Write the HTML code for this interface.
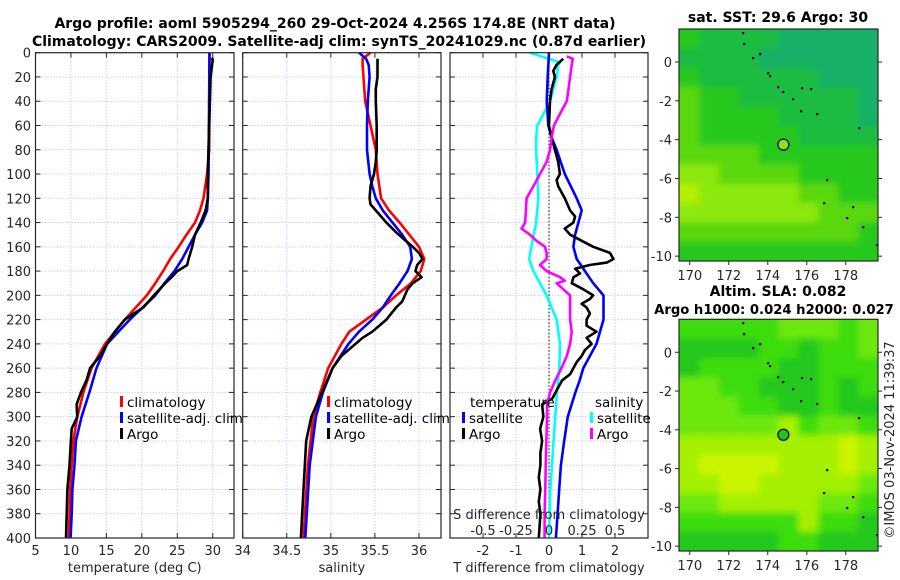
<!DOCTYPE html>
<html><head><meta charset="utf-8">
<style>
html,body{margin:0;padding:0;background:#fff;}
svg{display:block;font-family:"DejaVu Sans","Liberation Sans",sans-serif;}
.tk{font-size:13px;fill:#262626;}
.tt{font-size:14px;font-weight:bold;fill:#000;}
.lg{font-size:13.5px;fill:#000;}
</style></head>
<body>
<svg id="fig" width="900" height="580" viewBox="0 0 900 580" xmlns="http://www.w3.org/2000/svg">
<defs>
<filter id="blur" x="-5%" y="-5%" width="110%" height="110%"><feGaussianBlur stdDeviation="3.5"/></filter>
<clipPath id="clip1"><rect x="679" y="29" width="199" height="232"/></clipPath>
<clipPath id="clip2"><rect x="679" y="319.3" width="199" height="231.7"/></clipPath>
</defs>
<text class="tt" x="335" y="28" text-anchor="middle">Argo profile: aoml 5905294_260 29-Oct-2024 4.256S 174.8E (NRT data)</text>
<text class="tt" x="339" y="46" text-anchor="middle">Climatology: CARS2009. Satellite-adj clim: synTS_20241029.nc (0.87d earlier)</text>
<text class="tt" x="778" y="22" text-anchor="middle">sat. SST: 29.6 Argo: 30</text>
<text class="tt" x="778" y="296" text-anchor="middle">Altim. SLA: 0.082</text>
<text class="tt" x="774" y="314" text-anchor="middle" style="font-size:13.2px">Argo h1000: 0.024 h2000: 0.027</text>
<text class="tk" x="0" y="0" transform="translate(894,440) rotate(-90)" text-anchor="middle">©IMOS 03-Nov-2024 11:39:37</text>
<g id="plots"></g>
</svg>
<script>
// ---------- data ----------
const depthTicks = [0,20,40,60,80,100,120,140,160,180,200,220,240,260,280,300,320,340,360,380,400];
const tempTicks = [5,10,15,20,25,30];
const salTicks = [34,34.5,35,35.5,36];
const salTickLabels = ["34","34.5","35","35.5","36"];
const diffTicks = [-2,-1,0,1,2];
const sDiffLabels = ["-0.5","-0.25","0","0.25","0.5"];

const tClimDepth = [0,80,100,120,130,140,150,160,170,180,190,200,220,240,260,280,300,320,340,360,380,400];
const tClim = [29.55,29.5,29.2,28.7,28.2,27.5,26.3,25.2,24.0,23.0,21.9,20.7,17.6,14.8,12.9,11.75,10.9,10.35,10.1,9.9,9.8,9.7];
const tSatDepth = [0,100,120,130,140,150,160,170,180,190,200,220,240,260,280,300,320,340,360,380,400];
const tSat = [29.55,29.4,29.3,29.2,28.5,27.5,26.6,25.7,24.6,23.2,21.9,18.3,15.1,13.6,12.6,11.5,10.7,10.5,10.2,10.1,9.95];
const tArgoDepth = [4,6,20,100,120,130,140,150,160,170,175,180,185,190,200,210,220,230,240,250,260,270,280,290,300,310,320,340,360,380,400];
const tArgo = [29.9,30.0,29.7,29.3,29.3,29.0,28.3,27.5,27.1,26.6,26.4,25.0,24.2,23.3,21.7,20.2,17.6,16.2,15.1,14.1,12.7,12.2,11.4,10.8,10.9,10.1,10.0,9.8,9.5,9.4,9.3];

const sClimDepth = [0,5,10,40,60,80,100,120,130,140,150,160,170,180,190,200,210,220,230,240,260,280,300,340,400];
const sClim = [35.45,35.36,35.36,35.39,35.45,35.51,35.53,35.57,35.66,35.78,35.89,36.0,36.06,36.02,35.91,35.74,35.59,35.40,35.21,35.12,34.97,34.88,34.8,34.74,34.69];
const sSatDepth = [0,5,10,20,40,60,80,100,110,120,130,140,150,160,170,180,190,200,210,220,230,240,260,280,300,340,400];
const sSat = [35.32,35.4,35.43,35.44,35.42,35.41,35.41,35.44,35.47,35.51,35.59,35.70,35.81,35.90,35.92,35.87,35.78,35.68,35.59,35.47,35.32,35.2,35.02,34.91,34.83,34.76,34.71];
const sArgoDepth = [5,20,30,40,60,80,90,100,110,120,125,130,140,148,155,160,165,170,175,180,185,190,195,200,205,210,220,230,235,240,250,260,280,300,320,360,400];
const sArgo = [35.53,35.53,35.51,35.51,35.52,35.52,35.51,35.49,35.45,35.44,35.45,35.51,35.63,35.74,35.85,35.93,36.0,36.04,35.98,35.96,36.03,35.93,35.87,35.84,35.81,35.74,35.63,35.47,35.36,35.28,35.12,35.02,34.9,34.78,34.72,34.69,34.66];

const dTSatDepth = [0,20,40,60,70,80,100,120,130,140,150,160,170,180,190,200,220,240,260,270,280,300,320,340,360,380,400];
const dTSat = [0,-0.04,-0.07,-0.02,0.08,0.23,0.48,0.84,0.99,0.89,0.79,0.74,0.84,1.09,1.34,1.65,1.65,1.44,1.04,0.93,0.8,0.57,0.46,0.36,0.31,0.26,0.21];
const dTArgoDepth = [5,10,15,20,30,40,60,70,80,90,100,105,110,120,130,135,140,145,150,155,160,165,170,173,175,178,182,185,190,195,200,203,207,210,215,220,225,230,235,240,245,250,255,260,265,270,275,285,290,300,310,320,330,340,350,360,370,380,400];
const dTArgo = [0.43,0.23,0.13,0.18,0.08,0.03,0,0.08,0.18,0.28,0.33,0.23,0.28,0.48,0.64,0.79,0.74,0.48,0.64,0.99,1.34,1.85,1.95,1.75,1.23,0.79,0.94,0.74,0.69,1.04,1.34,1.24,0.99,1.14,1.24,1.14,1.14,1.44,1.14,1.29,1.09,0.99,0.84,0.74,0.64,0.4,0.3,0.1,-0.21,-0.17,-0.27,-0.21,-0.26,-0.26,-0.31,-0.26,-0.31,-0.26,-0.31];
const dSSatDepth = [0,8,10,20,40,50,60,70,80,100,120,140,160,170,180,190,200,210,220,240,260,280,300,320,340,360,380,400];
const dSSat = [-0.145,0.083,0.07,0.058,0.008,-0.04,-0.088,-0.098,-0.098,-0.088,-0.08,-0.098,-0.133,-0.15,-0.118,-0.068,-0.018,0.02,0.058,0.083,0.078,0.06,0.048,0.035,0.023,0.01,0.005,0];
const dSArgoDepth = [3,5,10,20,30,40,50,60,70,80,90,100,110,120,130,140,145,150,155,160,165,170,175,180,185,188,190,195,200,210,220,230,240,250,260,270,280,290,300,320,340,360,380,400];
const dSArgo = [0.135,0.18,0.172,0.16,0.148,0.135,0.085,0.038,0.02,0.008,-0.018,-0.068,-0.118,-0.17,-0.175,-0.18,-0.208,-0.145,-0.095,-0.03,-0.018,-0.018,-0.068,-0.018,0.083,0.12,0.058,0.108,0.16,0.16,0.16,0.172,0.16,0.135,0.095,0.048,0.008,-0.015,-0.015,-0.02,-0.025,-0.028,-0.033,-0.033];

const mapLonTicks = [170,172,174,176,178];
const mapLatTicks = [0,-2,-4,-6,-8,-10];
const sstGrid = ["cbbbbaaaaa","bbbbaaaaaa","cbbbbbbaaa","dccbbbbbba","dccccbbbba","dcccccbbbb","ddddcccccc","eeddddcccc","feeeeeddcc","eeeeeeeddd","dddddddddc","cccccccccc"];
const slaGrid = ["hhhhhiiihi","gggghhghhi","ghhhhgghhh","iihhggghgh","iiihhgghgg","iiiiijhiih","jjjjjjjjkj","jkkkkjjjkj","jjkkjjjjji","iijjjjjiih","hhhhhhjhhg","ggggghhggg"];
const cellColors = {a:"#14b068",b:"#1cbc40",c:"#26c81a",d:"#5ad810",e:"#8ce808",f:"#b4f000",g:"#24c81a",h:"#3edc10",i:"#6ce808",j:"#a4f000",k:"#ccf400"};
const islandsX = [743,744,753,760,768,770,778,783,793,802,811,801,817,859,827,824,847,853,863,877];
const islandsY = [33,44,58,54,73,76,87,92,99,88,89,111,114,128,180,203,218,207,227,245];
const argoLon = 174.8, argoLat = -4.256;

// ---------- helpers ----------
const NS = "http://www.w3.org/2000/svg";
const root = document.getElementById('plots');
function el(tag, attrs, parent){
  const e = document.createElementNS(NS, tag);
  for (const k in attrs) e.setAttribute(k, attrs[k]);
  (parent||root).appendChild(e);
  return e;
}
const Y0 = 52.7, Y1 = 538;
function yScale(d){ return Y0 + (d/400)*(Y1-Y0); }
function mkX(x0,x1,v0,v1){ return v => x0 + (v-v0)/(v1-v0)*(x1-x0); }

function panel(name, x0, x1, xs, ticks, labels, xlabel){
  const g = el('g', {});
  
  
  for (const d of depthTicks){
    const ln = el('line',{x1:x0,x2:x1,y1:yScale(d),y2:yScale(d),stroke:"#c9cfee","stroke-width":1,"stroke-dasharray":"1.5,1.5"},g);
    
    
    el('line',{x1:x0,x2:x0+5,y1:yScale(d),y2:yScale(d),stroke:"#262626"},g);
    el('line',{x1:x1-5,x2:x1,y1:yScale(d),y2:yScale(d),stroke:"#262626"},g);
  }
  ticks.forEach((t,i)=>{
    const x = xs(t);
    const ln = el('line',{x1:x,x2:x,y1:Y0,y2:Y1,stroke:"#c9cfee","stroke-width":1,"stroke-dasharray":"1.5,1.5"},g);
    
    
    el('line',{x1:x,x2:x,y1:Y0,y2:Y0+5,stroke:"#262626"},g);
    el('line',{x1:x,x2:x,y1:Y1-5,y2:Y1,stroke:"#262626"},g);
    const tx = el('text',{x:x,y:Y1+17,"text-anchor":"middle",class:"tk"},g);
    tx.textContent = labels[i];
    
    
  });
  const xl = el('text',{x:(x0+x1)/2,y:572,"text-anchor":"middle",class:"tk"},g);
  xl.textContent = xlabel;
  
  
  return g;
}
function series(name, g, xs, vals, depths, color, w){
  const pts = vals.map((v,i)=> xs(v).toFixed(1)+","+yScale(depths[i]).toFixed(1)).join(" ");
  const p = el('polyline',{points:pts,fill:"none",stroke:color,"stroke-width":w||2.6,"stroke-linejoin":"round"},g);
  
  
}
function frame(g,x0,x1){
  el('rect',{x:x0,y:Y0,width:x1-x0,height:Y1-Y0,fill:"none",stroke:"#262626","stroke-width":1.2},g);
}
function legend(g, x, y, items){
  items.forEach((it,i)=>{
    const yy = y + i*16;
    const b = el('rect',{x:x,y:yy-11,width:3,height:11,fill:it[1]},g);
    
    
    const t = el('text',{x:x+7,y:yy,class:"lg"},g);
    t.textContent = it[0];
    
    
  });
}

// ---------- panel 1: temperature ----------
const xT = mkX(35.5, 234, 5, 33);
const g1 = panel('temperature-panel', 35.5, 234, xT, tempTicks, tempTicks.map(String), 'temperature (deg C)');
depthTicks.forEach(d=>{
  const t = el('text',{x:31,y:yScale(d)+5,"text-anchor":"end",class:"tk"},g1);
  t.textContent = String(d);
  
  
});
series('temp-climatology-line', g1, xT, tClim, tClimDepth, "#ff0000");
series('temp-satellite-line', g1, xT, tSat, tSatDepth, "#0000ff");
series('temp-argo-line', g1, xT, tArgo, tArgoDepth, "#000000");
frame(g1,35.5,234);
legend(g1,120,407,[["climatology","#ff0000"],["satellite-adj. clim","#0000ff"],["Argo","#000000"]]);

// ---------- panel 2: salinity ----------
const xS = mkX(242.7, 441, 34, 36.25);
const g2 = panel('salinity-panel', 242.7, 441, xS, salTicks, salTickLabels, 'salinity');
series('sal-climatology-line', g2, xS, sClim, sClimDepth, "#ff0000");
series('sal-satellite-line', g2, xS, sSat, sSatDepth, "#0000ff");
series('sal-argo-line', g2, xS, sArgo, sArgoDepth, "#000000");
frame(g2,242.7,441);
legend(g2,327,407,[["climatology","#ff0000"],["satellite-adj. clim","#0000ff"],["Argo","#000000"]]);

// ---------- panel 3: differences ----------
const xD = mkX(450, 648, -3, 3);
const xDS = v => xD(v*4);
const g3 = panel('difference-panel', 450, 648, xD, diffTicks, diffTicks.map(String), 'T difference from climatology');
const zl = el('line',{x1:xD(0),x2:xD(0),y1:Y0,y2:Y1,stroke:"#333","stroke-width":1.2,"stroke-dasharray":"1.5,2"},g3);


series('s-diff-satellite-line', g3, xDS, dSSat, dSSatDepth, "#00ffff");
series('t-diff-satellite-line', g3, xD, dTSat, dTSatDepth, "#0000ff");
series('t-diff-argo-line', g3, xD, dTArgo, dTArgoDepth, "#000000");
series('s-diff-argo-line', g3, xDS, dSArgo, dSArgoDepth, "#ff00ff");
frame(g3,450,648);
const st = el('text',{x:549,y:519,"text-anchor":"middle",class:"tk"},g3);
st.textContent = 'S difference from climatology';


diffTicks.forEach((t,i)=>{
  const tx = el('text',{x:xD(t),y:535,"text-anchor":"middle",class:"tk"},g3);
  tx.textContent = sDiffLabels[i];
  
  
});
const lt = el('text',{x:470,y:407,class:"lg"},g3);
lt.textContent='temperature';


legend(g3,462,423,[["satellite","#0000ff"],["Argo","#000000"]]);
const ls = el('text',{x:595,y:407,class:"lg"},g3);
ls.textContent='salinity';


legend(g3,590,423,[["satellite","#00ffff"],["Argo","#ff00ff"]]);

// ---------- maps ----------
function map(name, top, bottom, grid, dy, circleFill, clipId){
  const L=679, R=878;
  const g = el('g',{});
  
  
  const lonX = lon => L + (lon-169.45)/(179.65-169.45)*(R-L);
  const latY = lat => top + (1.7-lat)/(1.7+10.25)*(bottom-top);
  const rows = grid.length, cols = grid[0].length;
  const cw = (R-L)/cols, ch = (bottom-top)/rows;
  const cg = el('g',{"clip-path":"url(#"+clipId+")"},g);
  const bg = el('g',{filter:"url(#blur)"},cg);
  grid.forEach((row,r)=>{
    for (let c=0;c<cols;c++){
      let x = L+c*cw, y = top+r*ch, w = cw+0.5, h = ch+0.5;
      if (c===0){x-=10; w+=10;} if (c===cols-1){w+=10;}
      if (r===0){y-=10; h+=10;} if (r===rows-1){h+=10;}
      const cell = el('rect',{x:x,y:y,width:w,height:h,fill:cellColors[row[c]]},bg);
      
      
    }
  });
  islandsX.forEach((x,i)=>{
    const d = el('rect',{x:x-1,y:islandsY[i]+dy-1,width:2.2,height:2.2,fill:"#000"},g);
    
    
  });
  const c = el('circle',{cx:lonX(argoLon),cy:latY(argoLat),r:5.5,fill:circleFill,stroke:"#000","stroke-width":1.2},g);
  
  
  el('rect',{x:L,y:top,width:R-L,height:bottom-top,fill:"none",stroke:"#262626","stroke-width":1.2},g);
  mapLatTicks.forEach(t=>{
    const y = latY(t);
    el('line',{x1:R,x2:R+4,y1:y,y2:y,stroke:"#262626"},g);
    el('line',{x1:L-4,x2:L,y1:y,y2:y,stroke:"#262626"},g);
    const tx = el('text',{x:L-7,y:y+5,"text-anchor":"end",class:"tk"},g);
    tx.textContent = String(t);
    
    
  });
  mapLonTicks.forEach(t=>{
    const x = lonX(t);
    el('line',{x1:x,x2:x,y1:bottom,y2:bottom+4,stroke:"#262626"},g);
    const tx = el('text',{x:x,y:bottom+19,"text-anchor":"middle",class:"tk"},g);
    tx.textContent = String(t);
    
    
  });
}
map('sst-map', 29, 261, sstGrid, 0, "#8ee020", "clip1");
map('sla-map', 319.3, 551, slaGrid, 290, "#28c020", "clip2");
</script>
</body></html>
